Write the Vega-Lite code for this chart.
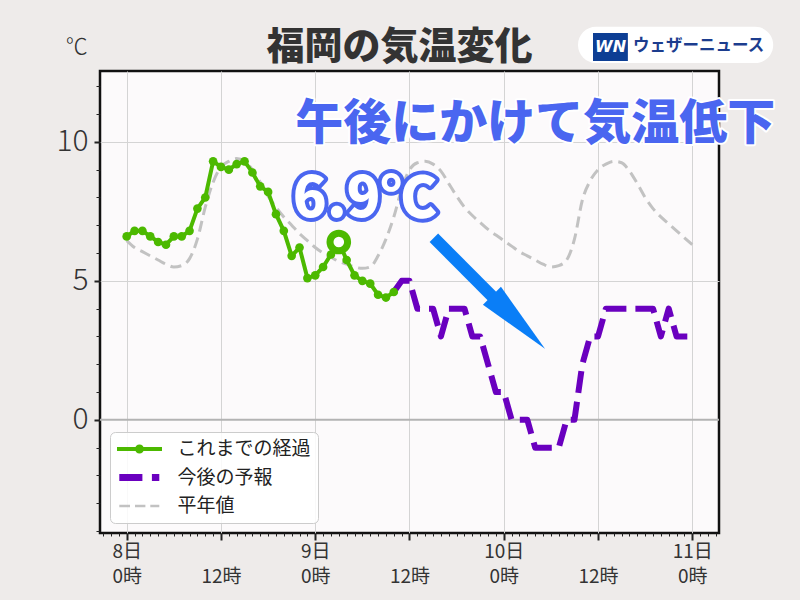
{
  "$schema": "https://vega.github.io/schema/vega-lite/v6.json",
  "width": 619,
  "height": 462,
  "autosize": "none",
  "padding": {"left": 100, "top": 71, "right": 81, "bottom": 67},
  "background": "#eeebea",
  "title": {"text": "福岡の気温変化", "fontSize": 38, "font": "Noto Sans CJK JP", "fontWeight": 900, "color": "#333333", "anchor": "middle", "dx": -10, "offset": -40},
  "config": {"font": "Noto Sans CJK JP", "view": {"fill": "#fcfafb", "stroke": "#111111", "strokeWidth": 2.5}},
  "datasets": {
    "obs": [
      {"h": 0, "t": 6.6}, {"h": 1, "t": 6.8}, {"h": 2, "t": 6.8}, {"h": 3, "t": 6.6}, {"h": 4, "t": 6.4},
      {"h": 5, "t": 6.3}, {"h": 6, "t": 6.6}, {"h": 7, "t": 6.6}, {"h": 8, "t": 6.8}, {"h": 9, "t": 7.6},
      {"h": 10, "t": 8.0}, {"h": 11, "t": 9.3}, {"h": 12, "t": 9.1}, {"h": 13, "t": 9.0}, {"h": 14, "t": 9.2},
      {"h": 15, "t": 9.3}, {"h": 16, "t": 8.9}, {"h": 17, "t": 8.4}, {"h": 18, "t": 8.2}, {"h": 19, "t": 7.4},
      {"h": 20, "t": 6.8}, {"h": 21, "t": 5.9}, {"h": 22, "t": 6.2}, {"h": 23, "t": 5.1}, {"h": 24, "t": 5.2},
      {"h": 25, "t": 5.5}, {"h": 26, "t": 5.95}, {"h": 27, "t": 6.4}, {"h": 28, "t": 5.75}, {"h": 29, "t": 5.2},
      {"h": 30, "t": 5.0}, {"h": 31, "t": 4.9}, {"h": 32, "t": 4.5}, {"h": 33, "t": 4.4}, {"h": 34, "t": 4.6}
    ],
    "fcst": [
      {"h": 34, "t": 4.6}, {"h": 35, "t": 5}, {"h": 36, "t": 5}, {"h": 37, "t": 4}, {"h": 38, "t": 4},
      {"h": 39, "t": 4}, {"h": 40, "t": 3}, {"h": 41, "t": 4}, {"h": 42, "t": 4}, {"h": 43, "t": 4},
      {"h": 44, "t": 3}, {"h": 45, "t": 3}, {"h": 46, "t": 2}, {"h": 47, "t": 1}, {"h": 48, "t": 1},
      {"h": 49, "t": 0}, {"h": 50, "t": 0}, {"h": 51, "t": 0}, {"h": 52, "t": -1}, {"h": 53, "t": -1},
      {"h": 54, "t": -1}, {"h": 55, "t": -1}, {"h": 56, "t": 0}, {"h": 57, "t": 0}, {"h": 58, "t": 2},
      {"h": 59, "t": 3}, {"h": 60, "t": 3}, {"h": 61, "t": 4}, {"h": 62, "t": 4}, {"h": 63, "t": 4},
      {"h": 64, "t": 4}, {"h": 65, "t": 4}, {"h": 66, "t": 4}, {"h": 67, "t": 4}, {"h": 68, "t": 3},
      {"h": 69, "t": 4}, {"h": 70, "t": 3}, {"h": 71, "t": 3}, {"h": 72, "t": 3}
    ],
    "normal": [
      {"h": 0, "t": 6.45}, {"h": 1, "t": 6.2}, {"h": 2, "t": 6.05}, {"h": 3, "t": 5.9}, {"h": 4, "t": 5.75},
      {"h": 5, "t": 5.6}, {"h": 6, "t": 5.5}, {"h": 7, "t": 5.55}, {"h": 8, "t": 5.8}, {"h": 9, "t": 6.5},
      {"h": 10, "t": 7.65}, {"h": 11, "t": 8.55}, {"h": 12, "t": 9.1}, {"h": 13, "t": 9.3}, {"h": 14, "t": 9.4},
      {"h": 15, "t": 9.3}, {"h": 16, "t": 9.0}, {"h": 17, "t": 8.55}, {"h": 18, "t": 8.05}, {"h": 19, "t": 7.65},
      {"h": 20, "t": 7.3}, {"h": 21, "t": 7.0}, {"h": 22, "t": 6.7}, {"h": 23, "t": 6.45}, {"h": 24, "t": 6.2},
      {"h": 25, "t": 6.0}, {"h": 26, "t": 5.85}, {"h": 27, "t": 5.7}, {"h": 28, "t": 5.6}, {"h": 29, "t": 5.5},
      {"h": 30, "t": 5.45}, {"h": 31, "t": 5.5}, {"h": 32, "t": 5.9}, {"h": 33, "t": 6.5}, {"h": 34, "t": 7.3},
      {"h": 35, "t": 8.3}, {"h": 36, "t": 9.0}, {"h": 37, "t": 9.25}, {"h": 38, "t": 9.3}, {"h": 39, "t": 9.2},
      {"h": 40, "t": 8.95}, {"h": 41, "t": 8.5}, {"h": 42, "t": 8.05}, {"h": 43, "t": 7.65}, {"h": 44, "t": 7.35},
      {"h": 45, "t": 7.1}, {"h": 46, "t": 6.85}, {"h": 47, "t": 6.65}, {"h": 48, "t": 6.45}, {"h": 49, "t": 6.25},
      {"h": 50, "t": 6.05}, {"h": 51, "t": 5.9}, {"h": 52, "t": 5.75}, {"h": 53, "t": 5.6}, {"h": 54, "t": 5.5},
      {"h": 55, "t": 5.55}, {"h": 56, "t": 5.75}, {"h": 57, "t": 6.5}, {"h": 58, "t": 7.9}, {"h": 59, "t": 8.6},
      {"h": 60, "t": 9.0}, {"h": 61, "t": 9.2}, {"h": 62, "t": 9.3}, {"h": 63, "t": 9.25}, {"h": 64, "t": 8.95},
      {"h": 65, "t": 8.5}, {"h": 66, "t": 8.0}, {"h": 67, "t": 7.6}, {"h": 68, "t": 7.3}, {"h": 69, "t": 7.05},
      {"h": 70, "t": 6.8}, {"h": 71, "t": 6.55}, {"h": 72, "t": 6.3}
    ]
  },
  "layer": [
    {
      "data": {"values": [{}]},
      "mark": {"type": "rule", "color": "#b3b3b3", "strokeWidth": 2},
      "encoding": {"y": {"datum": 0, "type": "quantitative"}}
    },
    {
      "data": {"name": "normal"},
      "mark": {"type": "line", "color": "#c2c2c2", "strokeWidth": 3, "strokeDash": [11, 6], "interpolate": "monotone"},
      "encoding": {
        "x": {
          "field": "h", "type": "quantitative",
          "scale": {"domain": [-3.4, 75.4], "nice": false, "zero": false},
          "axis": {
            "title": null,
            "values": [-3,-2,-1,0,1,2,3,4,5,6,7,8,9,10,11,12,13,14,15,16,17,18,19,20,21,22,23,24,25,26,27,28,29,30,31,32,33,34,35,36,37,38,39,40,41,42,43,44,45,46,47,48,49,50,51,52,53,54,55,56,57,58,59,60,61,62,63,64,65,66,67,68,69,70,71,72,73,74,75],
            "tickCount": 200,
            "domain": false,
            "grid": true,
            "gridColor": "#d4d4d4",
            "gridWidth": 1,
            "gridOpacity": {"condition": {"test": "datum.value % 12 === 0", "value": 1}, "value": 0},
            "tickColor": "#222222",
            "tickSize": {"condition": {"test": "datum.value % 12 === 0", "value": 7}, "value": 3},
            "tickWidth": {"condition": {"test": "datum.value % 12 === 0", "value": 2}, "value": 1},
            "labelExpr": "datum.value % 24 === 0 ? [(8 + datum.value / 24) + '日', '0時'] : (datum.value % 12 === 0 ? ['', '12時'] : '')",
            "labelFontSize": 19,
            "labelColor": "#333333",
            "labelLineHeight": 25,
            "labelPadding": 2,
            "labelOverlap": false,
            "labelFlush": false,
            "labelBound": false,
            "labelBaseline": "top"
          }
        },
        "y": {
          "field": "t", "type": "quantitative",
          "scale": {"domain": [-4.07, 12.55], "nice": false, "zero": false},
          "axis": {
            "title": null,
            "values": [-4,-3,-2,-1,0,1,2,3,4,5,6,7,8,9,10,11,12],
            "tickCount": 200,
            "format": "d",
            "domain": false,
            "grid": true,
            "gridColor": "#d4d4d4",
            "gridWidth": 1,
            "gridOpacity": {"condition": {"test": "datum.value === 5 || datum.value === 10", "value": 1}, "value": 0},
            "tickColor": "#222222",
            "tickSize": {"condition": {"test": "datum.value % 5 === 0", "value": 6}, "value": 4},
            "tickWidth": {"condition": {"test": "datum.value % 5 === 0", "value": 2}, "value": 1},
            "labelExpr": "datum.value % 5 === 0 ? datum.label : ''",
            "labelFontSize": 30,
            "labelFontWeight": 300,
            "labelColor": "#333333",
            "labelPadding": 6,
            "labelOverlap": false
          }
        }
      }
    },
    {
      "data": {"name": "fcst"},
      "mark": {"type": "line", "color": "#6a00bf", "strokeWidth": 6, "strokeDash": [22, 9], "strokeJoin": "round"},
      "encoding": {"x": {"field": "h", "type": "quantitative"}, "y": {"field": "t", "type": "quantitative"}}
    },
    {
      "data": {"name": "obs"},
      "mark": {"type": "line", "color": "#4cb900", "strokeWidth": 4, "point": {"filled": true, "size": 75, "color": "#4cb900"}},
      "encoding": {"x": {"field": "h", "type": "quantitative"}, "y": {"field": "t", "type": "quantitative"}}
    },
    {
      "data": {"name": "obs"},
      "transform": [{"filter": "datum.h === 27"}],
      "mark": {"type": "point", "filled": true, "fill": "#ffffff", "stroke": "#4cb900", "strokeWidth": 7, "size": 310, "opacity": 1},
      "encoding": {"x": {"field": "h", "type": "quantitative"}, "y": {"field": "t", "type": "quantitative"}}
    },
    {
      "data": {"values": [{}]},
      "mark": {"type": "rule", "color": "#0a7ef7", "strokeWidth": 12, "strokeCap": "butt"},
      "encoding": {
        "x": {"datum": 39.1, "type": "quantitative"}, "y": {"datum": 6.55, "type": "quantitative"},
        "x2": {"datum": 47.5}, "y2": {"datum": 4.17}
      }
    },
    {
      "data": {"values": [{}]},
      "mark": {"type": "point", "shape": "M1,0L-1,-0.34L-1,0.34Z", "size": 5625, "angle": 45, "filled": true, "color": "#0a7ef7", "opacity": 1, "strokeWidth": 0},
      "encoding": {"x": {"datum": 49.87, "type": "quantitative"}, "y": {"datum": 3.51, "type": "quantitative"}}
    },
    {
      "data": {"values": [{"label": "6.9℃"}]},
      "mark": {"type": "text", "fontSize": 56, "fontWeight": 900, "fill": "#4a66f0", "stroke": "#4a66f0", "strokeWidth": 8, "strokeJoin": "round", "align": "center", "baseline": "middle"},
      "encoding": {"x": {"datum": 30.3, "type": "quantitative"}, "y": {"datum": 7.9, "type": "quantitative"}, "text": {"field": "label"}}
    },
    {
      "data": {"values": [{"label": "6.9℃"}]},
      "mark": {"type": "text", "fontSize": 56, "fontWeight": 900, "fill": "#ffffff", "align": "center", "baseline": "middle"},
      "encoding": {"x": {"datum": 30.3, "type": "quantitative"}, "y": {"datum": 7.9, "type": "quantitative"}, "text": {"field": "label"}}
    },
    {
      "data": {"values": [{"label": "午後にかけて気温低下"}]},
      "mark": {"type": "text", "fontSize": 48, "fontWeight": 900, "fill": "#4a66f0", "stroke": "#ffffff", "strokeWidth": 4, "strokeJoin": "round", "align": "center", "baseline": "middle"},
      "encoding": {"x": {"datum": 52.0, "type": "quantitative"}, "y": {"datum": 10.6, "type": "quantitative"}, "text": {"field": "label"}}
    },
    {
      "data": {"values": [{"label": "午後にかけて気温低下"}]},
      "mark": {"type": "text", "fontSize": 48, "fontWeight": 900, "fill": "#4a66f0", "align": "center", "baseline": "middle"},
      "encoding": {"x": {"datum": 52.0, "type": "quantitative"}, "y": {"datum": 10.6, "type": "quantitative"}, "text": {"field": "label"}}
    },
    {
      "data": {"values": [{"label": "℃"}]},
      "mark": {"type": "text", "fontSize": 22, "fontWeight": 300, "fill": "#333333", "align": "center", "baseline": "middle"},
      "encoding": {"x": {"datum": -6.37, "type": "quantitative"}, "y": {"datum": 13.42, "type": "quantitative"}, "text": {"field": "label"}}
    },
    {
      "data": {"values": [{}]},
      "mark": {"type": "rect", "fill": "#ffffff", "cornerRadius": 18},
      "encoding": {"x": {"datum": 57.45, "type": "quantitative"}, "x2": {"datum": 82.3}, "y": {"datum": 14.14, "type": "quantitative"}, "y2": {"datum": 12.84}}
    },
    {
      "data": {"values": [{}]},
      "mark": {"type": "rect", "fill": "#0d3e94"},
      "encoding": {"x": {"datum": 59.36, "type": "quantitative"}, "x2": {"datum": 63.8}, "y": {"datum": 13.92, "type": "quantitative"}, "y2": {"datum": 12.91}}
    },
    {
      "data": {"values": [{"label": "WN"}]},
      "mark": {"type": "text", "fontSize": 16, "fontWeight": "bold", "fontStyle": "italic", "font": "DejaVu Sans", "fill": "#ffffff", "align": "center", "baseline": "middle"},
      "encoding": {"x": {"datum": 61.6, "type": "quantitative"}, "y": {"datum": 13.42, "type": "quantitative"}, "text": {"field": "label"}}
    },
    {
      "data": {"values": [{"label": "ウェザーニュース"}]},
      "mark": {"type": "text", "fontSize": 16.5, "fontWeight": "bold", "fill": "#1c3d8e", "align": "left", "baseline": "middle"},
      "encoding": {"x": {"datum": 64.46, "type": "quantitative"}, "y": {"datum": 13.45, "type": "quantitative"}, "text": {"field": "label"}}
    },
    {
      "data": {"values": [{"s": "これまでの経過"}, {"s": "今後の予報"}, {"s": "平年値"}]},
      "mark": {"type": "point", "filled": true, "clip": true, "opacity": 1},
      "encoding": {
        "x": {"datum": -50, "type": "quantitative"},
        "y": {"datum": -50, "type": "quantitative"},
        "color": {
          "field": "s", "type": "nominal",
          "scale": {"domain": ["これまでの経過", "今後の予報", "平年値"], "range": ["#4cb900", "#6a00bf", "#c2c2c2"]},
          "legend": {"title": null, "orient": "bottom-left", "offset": 10, "padding": 7, "symbolSize": 400, "symbolStrokeWidth": 0, "labelFontSize": 19, "labelColor": "#222222", "labelOffset": 40.5, "rowPadding": 8.5, "fillColor": "rgba(255,255,255,0.85)", "strokeColor": "#cccccc", "cornerRadius": 5, "labelLimit": 300}
        },
        "shape": {
          "field": "s", "type": "nominal",
          "scale": {"domain": ["これまでの経過", "今後の予報", "平年値"], "range": [
            "M-1,-0.2H3.5V0.2H-1Z M0.8,0A0.45,0.45 0 1,1 1.7,0A0.45,0.45 0 1,1 0.8,0Z",
            "M-0.77,-0.34H1.54V0.34H-0.77Z M2.49,-0.34H3.23V0.34H2.49Z",
            "M-0.77,-0.12H0.3V0.12H-0.77Z M0.8,-0.12H1.84V0.12H0.8Z M2.33,-0.12H3.23V0.12H2.33Z"
          ]},
          "legend": {"title": null, "orient": "bottom-left", "offset": 10, "padding": 7, "symbolSize": 400, "symbolStrokeWidth": 0, "labelFontSize": 19, "labelColor": "#222222", "labelOffset": 40.5, "rowPadding": 8.5, "fillColor": "rgba(255,255,255,0.85)", "strokeColor": "#cccccc", "cornerRadius": 5, "labelLimit": 300}
        }
      }
    }
  ]
}
